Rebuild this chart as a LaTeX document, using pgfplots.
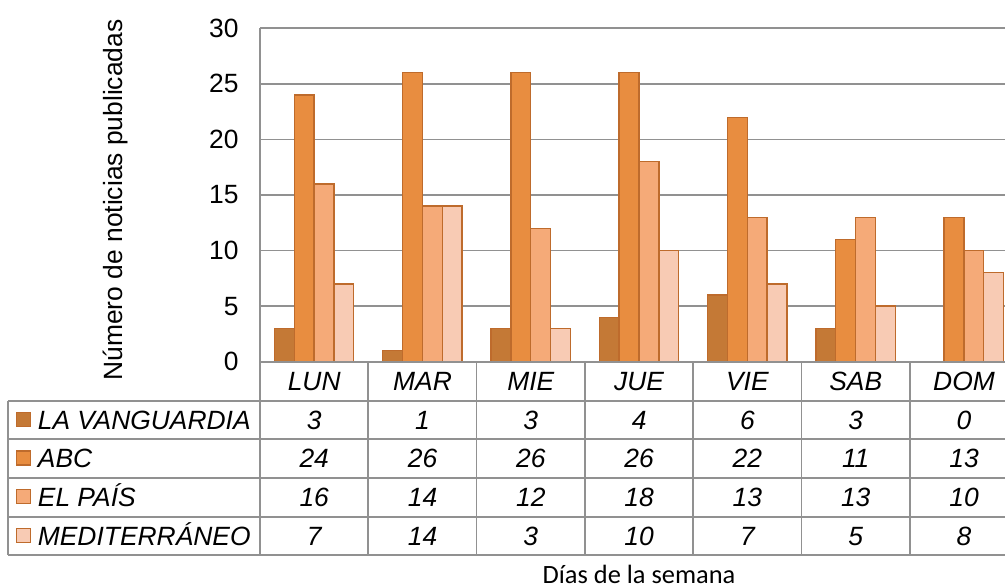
\documentclass[border=0pt]{standalone}
\usepackage{pgfplots}
\pgfplotsset{compat=1.18}
\usepackage{pgfplotstable}
\usepackage{fontspec}
\setmainfont{Liberation Sans}
\newfontfamily\calibri{Carlito}

\definecolor{cvan}{RGB}{196,121,54}
\definecolor{cabc}{RGB}{232,141,64}
\definecolor{cpais}{RGB}{245,170,120}
\definecolor{cmed}{RGB}{248,203,180}
\definecolor{cborde}{RGB}{190,107,44}
\definecolor{grisg}{RGB}{145,145,145}

% noticias publicadas por dia y periodico
\pgfplotstableread{
x van abc pais med
0 3 24 16 7
1 1 26 14 14
2 3 26 12 3
3 4 26 18 10
4 6 22 13 7
5 3 11 13 5
6 0 13 10 8
}\datos

\newcommand{\tam}{\fontsize{13.2}{15.8}\selectfont}

\begin{document}
\begin{tikzpicture}
\begin{axis}[
    at={(0,0)}, anchor=south west,
    scale only axis, width=379pt, height=166.7pt,
    xmin=-0.5, xmax=6.5, ymin=0, ymax=30,
    enlargelimits=false,
    ybar=0pt, bar width=0.183,
    xtick=\empty,
    ytick={0,5,...,30},
    ymajorgrids,
    grid style={draw=grisg, line width=0.8pt},
    axis line style={draw=none},
    major tick length=0pt,
    /pgf/number format/assume math mode=true,
    yticklabel style={font=\tam, xshift=-7.2pt},
    every axis plot/.append style={draw=cborde, line width=0.7pt},
]
\addplot[fill=cvan] table[x=x, y=van] {\datos};
\addplot[fill=cabc] table[x=x, y=abc] {\datos};
\addplot[fill=cpais] table[x=x, y=pais] {\datos};
\addplot[fill=cmed] table[x=x, y=med] {\datos};
\end{axis}

% tabla de datos, en pixeles de la imagen
\begin{scope}[x=0.5pt, y=-0.5pt, shift={(-130pt,180.85pt)}]
  \draw[grisg, line width=0.85pt] (260,28.3) -- (260,555);
  \foreach \k in {1,...,7}
    \draw[grisg, line width=0.85pt] ({260+108.3*\k},361.7) -- ({260+108.3*\k},555);
  \draw[grisg, line width=0.85pt] (8.3,400.7) -- (8.3,555);
  \draw[grisg, line width=0.85pt] (260,361.7) -- (1018,361.7);
  \foreach \yy in {400.7,439.3,478,516.7,555}
    \draw[grisg, line width=0.85pt] (8.3,\yy) -- (1018,\yy);

  \foreach \d [count=\k from 0] in {LUN,MAR,MIE,JUE,VIE,SAB,DOM}
    \node[anchor=base, inner sep=0pt, font=\tam\itshape] at ({314.2+108.3*\k},390.7) {\d};

  \foreach \c/\col/\nom [count=\r from 0] in {van/cvan/LA VANGUARDIA, abc/cabc/ABC, pais/cpais/EL PAÍS, med/cmed/MEDITERRÁNEO} {
    \filldraw[fill=\col, draw=cborde, line width=0.6pt]
      (16.5,{412.5+38.6*\r}) rectangle (30.5,{426.5+38.6*\r});
    \node[anchor=base west, inner sep=0pt, font=\tam\itshape] at (37.5,{429.3+38.6*\r}) {\nom};
    \foreach \k in {0,...,6} {
      \pgfplotstablegetelem{\k}{\c}\of\datos
      \node[anchor=base, inner sep=0pt, font=\tam\itshape] at ({314.2+108.3*\k},{429.3+38.6*\r}) {\pgfplotsretval};
    }
  }

  \node[rotate=90, font=\tam, inner sep=0pt] at (116,200) {Número de noticias publicadas};
  \node[anchor=base, inner sep=0pt, font=\calibri\tam] at (639,583) {Días de la semana};
\end{scope}

\pgfresetboundingbox
\begin{scope}[x=0.5pt, y=-0.5pt, shift={(-130pt,180.85pt)}]
  \path[use as bounding box] (0,0) rectangle (1005,588);
\end{scope}
\end{tikzpicture}
\end{document}
